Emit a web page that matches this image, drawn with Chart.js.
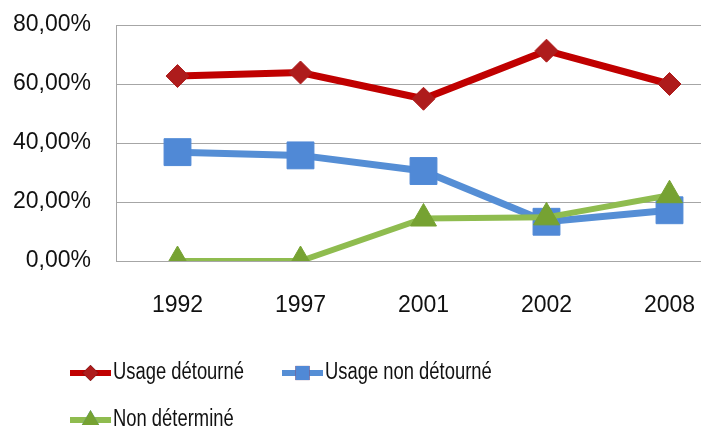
<!DOCTYPE html>
<html>
<head>
<meta charset="utf-8">
<script src="https://cdn.jsdelivr.net/npm/chart.js@4"></script>
<style>
  html, body { margin: 0; padding: 0; background: #fff; overflow: hidden; }
  #wrap { position: relative; width: 701px; height: 430px; overflow: hidden; }
  #chart { position: absolute; left: 0; top: 0; }
</style>
</head>
<body>
<div id="wrap"><canvas id="chart" width="751" height="430"></canvas></div>
<script>
// ── Data ──────────────────────────────────────────────
const years        = ["1992", "1997", "2001", "2002", "2008"];
const detourne     = [62.7, 63.9, 55.0, 71.3, 60.0];
const nonDetourne  = [36.9, 35.8, 30.5, 13.3, 17.2];
const nonDetermine = [0, 0, 14.4, 14.8, 22.3];
const yTicks       = [0, 20, 40, 60, 80];

const FONT = '"Liberation Sans", Arial, sans-serif';
const GRID = "#a6a6a6";

// Légende dessinée à la main (deux lignes, comme l'original)
const legendPlugin = {
  id: "manualLegend",
  afterDraw(chart) {
    const ctx = chart.ctx;
    const items = [
      { ds: 0, x: 70,  y: 373 },
      { ds: 1, x: 282, y: 373 },
      { ds: 2, x: 70,  y: 420 }
    ];
    ctx.save();
    items.forEach(it => {
      const d = chart.data.datasets[it.ds];
      ctx.strokeStyle = d.borderColor;
      ctx.lineWidth = 6;
      ctx.beginPath();
      ctx.moveTo(it.x, it.y);
      ctx.lineTo(it.x + 41, it.y);
      ctx.stroke();
      Chart.helpers.drawPoint(ctx, {
        pointStyle: d.pointStyle,
        radius: d.legendRadius,
        borderWidth: 0
      }, it.x + 20.5, it.y);
      ctx.fillStyle = d.pointBackgroundColor;
      ctx.fill();
      // texte étroit (type Calibri) : on compresse horizontalement
      ctx.save();
      ctx.translate(it.x + 43, it.y);
      ctx.scale(0.8, 1);
      ctx.fillStyle = "#111";
      ctx.font = "23px " + FONT;
      ctx.textBaseline = "middle";
      ctx.fillText(d.label, 0, 0);
      ctx.restore();
    });
    ctx.restore();
  }
};

new Chart(document.getElementById("chart"), {
  type: "line",
  data: {
    labels: years,
    datasets: [
      {
        label: "Usage détourné",
        data: detourne,
        order: 0,
        borderColor: "#c00000",
        borderWidth: 7,
        pointStyle: "rectRot",
        pointRadius: 11.5,
        legendRadius: 8,
        pointBackgroundColor: "#ae1c1c",
        pointBorderColor: "#ae1c1c",
        pointBorderWidth: 1
      },
      {
        label: "Usage non détourné",
        data: nonDetourne,
        order: 2,
        borderColor: "#558ed5",
        borderWidth: 7,
        pointStyle: "rect",
        pointRadius: 19,
        legendRadius: 10,
        pointBackgroundColor: "#5089d6",
        pointBorderColor: "#5089d6",
        pointBorderWidth: 1
      },
      {
        label: "Non déterminé",
        data: nonDetermine,
        order: 1,
        borderColor: "#8fbc4f",
        borderWidth: 6,
        pointStyle: "triangle",
        pointRadius: 15,
        legendRadius: 10,
        pointBackgroundColor: "#76a232",
        pointBorderColor: "#76a232",
        pointBorderWidth: 1
      }
    ]
  },
  options: {
    responsive: false,
    animation: false,
    layout: { padding: { top: 25, right: 9, left: 0, bottom: 99 } },
    plugins: { legend: { display: false }, tooltip: { enabled: false } },
    elements: { line: { tension: 0 } },
    scales: {
      x: {
        offset: true,
        grid: { display: false, drawTicks: false },
        border: { color: GRID, width: 1 },
        ticks: { color: "#111", font: { family: FONT, size: 23 }, padding: 31 },
        afterFit(scale) {
          scale.height = 70;
          scale.paddingLeft = 0;
          scale.paddingRight = 0;
        }
      },
      y: {
        min: 0,
        max: 80,
        afterBuildTicks(scale) { scale.ticks = yTicks.map(v => ({ value: v })); },
        grid: { color: GRID, lineWidth: 1, drawTicks: false },
        border: { color: GRID, width: 1 },
        ticks: {
          color: "#111",
          font: { family: FONT, size: 23 },
          padding: 25,
          callback: v => v.toFixed(2).replace(".", ",") + "%"
        },
        afterFit(scale) {
          scale.width = 116;
          scale.paddingTop = 0;
          scale.paddingBottom = 0;
        }
      }
    }
  },
  plugins: [legendPlugin]
});
</script>
</body>
</html>
